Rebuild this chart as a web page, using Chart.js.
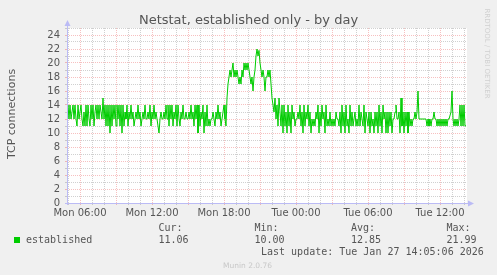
<!DOCTYPE html>
<html><head><meta charset="utf-8">
<script src="https://cdn.jsdelivr.net/npm/chart.js@4"></script>
<style>html,body{margin:0;padding:0;background:#F0F0F0;}canvas{display:block;}</style>
</head><body>
<canvas id="c" width="497" height="275" style="width:497px;height:275px"></canvas>
<script>
const chartTitle = 'Netstat, established only - by day';
const yAxisTitle = 'TCP connections';
const seriesName = 'established';
const startHour = 6 - 13/12;      // Mon 04:55, first sample
const stepHours = 5/60;           // 5 minute samples
const values = [
13,14,12,14,12,13,14,12,14,12,11,14,12,13,14,12,11,13,11,14,
11,14,12,11,14,12,14,11,13,14,12,14,12,14,13,12,15,12,14,11,
14,11,14,10,14,11,14,12,14,11,14,12,14,11,14,10,14,11,13,12,
14,11,13,12,14,12,13,11,12,13,12,14,12,13,11,12,13,12,14,12,
12,13,12,14,11,13,12,14,12,13,12,11,10,12,13,12,12,13,12,14,
12,14,11,14,12,14,11,13,12,14,11,14,12,11,13,12,14,12,12,13,
12,12,13,12,14,12,13,11,14,12,14,10,14,11,13,12,14,10,13,11,
14,11,12,11,12,12,13,12,11,13,12,14,12,13,11,12,13,14,12,11,
15,17,18,19,18,19,20,18,19,18,19,18,17,18,17,19,18,20,19,20,
19,20,19,18,17,18,16,18,19,21,21.99,21,21.8,20,19,18,19,18,16,18,
18,19,18,19,17,15,14,13,15,12,14,11,15,13,11,14,10,14,11,13,
10,14,11,13,10,14,12,13,11,12,12,13,12,14,11,13,10,14,11,13,
12,14,11,13,10,12,11,12,11,13,12,14,10,13,11,14,12,13,10,14,
11,12,11,13,11,12,11,12,11,13,12,12,11,13,10,14,11,13,10,14,
11,12,10,14,11,13,11,12,13,11,12,11,14,11,13,12,11,14,10,13,
12,11,13,10,13,11,12,10,13,11,13,10,14,11,13,10,14,12,13,10,
13,10,13,11,13,10,12,12,13,14,12,12,13,10,15,11,13,10,13,11,
13,10,13,11,12,11,12,12,13,12,13,16,12,12,12,12,12,12,12,12,
11,12,11,12,11,12,12,13,12,12,11,12,11,12,11,12,11,12,11,12,
11,12,12,12,13,16,12,11,12,11,12,11,12,14,11,14,11,14,11,11.06
];
const xTickHours = [6,12,18,24,30,36];
const xTickLabels = ['Mon 06:00','Mon 12:00','Mon 18:00','Tue 00:00','Tue 06:00','Tue 12:00'];
const yMax = 25;
const statLabels = ['Cur:','Min:','Avg:','Max:'];
const statValues = ['11.06','10.00','12.85','21.99'];
const lastUpdate = 'Last update: Tue Jan 27 14:05:06 2026';
const footer = 'Munin 2.0.76';
const sideText = 'RRDTOOL / TOBI OETIKER';

const RED = 'rgba(230,60,60,0.32)';
const GREY = 'rgba(150,150,150,0.45)';
const AXIS = '#BBBBF5';
const LINE = '#00CC00';
const TXT = '#555555';

const bgPlugin = {
  id:'bg',
  beforeDraw(chart){
    const c = chart.ctx, a = chart.chartArea;
    c.save();
    c.fillStyle = '#F0F0F0'; c.fillRect(0,0,chart.width,chart.height);
    c.fillStyle = '#FFFFFF'; c.fillRect(a.left, a.top, a.right-a.left, a.bottom-a.top);
    c.restore();
  }
};
const decoPlugin = {
  id:'deco',
  afterDraw(chart){
    const c = chart.ctx, a = chart.chartArea;
    c.save();
    c.strokeStyle = AXIS; c.lineWidth = 1; c.setLineDash([]);
    c.beginPath();
    c.moveTo(a.left+0.5, a.bottom+2); c.lineTo(a.left+0.5, a.top-4);
    c.moveTo(a.left-2, a.bottom+0.5); c.lineTo(a.right+3, a.bottom+0.5);
    c.stroke();
    c.fillStyle = AXIS;
    c.beginPath();
    c.moveTo(a.left-2.5, a.top-2); c.lineTo(a.left+3.5, a.top-2); c.lineTo(a.left+0.5, a.top-8); c.closePath(); c.fill();
    c.beginPath();
    c.moveTo(a.right+1, a.bottom-2.5); c.lineTo(a.right+1, a.bottom+3.5); c.lineTo(a.right+7, a.bottom+0.5); c.closePath(); c.fill();
    c.fillStyle = TXT; c.textBaseline = 'alphabetic';
    c.font = '13px "DejaVu Sans"'; c.textAlign = 'center';
    c.fillText(chartTitle, 248.5, 24);
    c.save();
    c.translate(14.5, 114); c.rotate(-Math.PI/2);
    c.font = '11px "DejaVu Sans"'; c.textAlign='center';
    c.fillText(yAxisTitle, 0, 0);
    c.restore();
    c.fillStyle = LINE; c.fillRect(14, 237, 6, 6);
    c.fillStyle = TXT; c.textAlign = 'left';
    c.font = '10px "DejaVu Sans Mono"';
    c.fillText(seriesName, 26, 243);
    const xs = [158.5, 254.5, 351, 446.5];
    for (let k=0;k<4;k++){
      c.fillText(statLabels[k], xs[k], 230.5);
      c.fillText(statValues[k], xs[k], 243);
    }
    c.fillText(lastUpdate, 261, 255);
    c.fillStyle = '#C8C8C8'; c.font = '7.5px "DejaVu Sans"'; c.textAlign='center';
    c.fillText(footer, 247.5, 267.5);
    c.save();
    c.translate(485, 53.5); c.rotate(Math.PI/2);
    c.font = '7px "DejaVu Sans"'; c.fillStyle = '#D0D0D0';
    c.fillText(sideText, 0, 0);
    c.restore();
    c.restore();
  }
};

new Chart(document.getElementById('c'), {
  type:'line',
  data:{datasets:[{
    label: seriesName,
    data: values.map((v,i)=>({x:startHour+i*stepHours, y:v})),
    borderColor: LINE, borderWidth:1, pointRadius:0, tension:0, fill:false
  }]},
  options:{
    responsive:false, animation:false, devicePixelRatio:1,
    layout:{padding:{left:0, top:28, right:30, bottom:0}},
    plugins:{legend:{display:false}, title:{display:false}, tooltip:{enabled:false}},
    scales:{
      x:{
        type:'linear', min:startHour, max:startHour+400*stepHours,
        afterBuildTicks(s){ const t=[]; for(let h=5;h<=38;h++) t.push({value:h}); s.ticks=t; },
        afterFit(s){ s.height = 72; },
        ticks:{autoSkip:false, maxRotation:0, minRotation:0, padding:2, color:TXT,
          font:{family:'DejaVu Sans', size:10},
          callback(v){ const k = xTickHours.indexOf(v); return k>=0 ? xTickLabels[k] : ''; }},
        grid:{color:(ctx)=> (ctx.tick && ctx.tick.value%3===0) ? RED : GREY, lineWidth:1,
          drawTicks:true, tickLength:2},
        border:{display:false, dash:[1,1]}
      },
      y:{
        min:0, max:yMax,
        afterBuildTicks(s){ const t=[]; for(let v=0;v<=yMax;v++) t.push({value:v}); s.ticks=t; },
        afterFit(s){ s.width = 67; },
        ticks:{autoSkip:false, padding:5, color:TXT, font:{family:'DejaVu Sans', size:10},
          callback(v){ return v%2===0 ? String(v) : ''; }},
        grid:{color:(ctx)=> (ctx.tick && ctx.tick.value%2===0) ? RED : GREY, lineWidth:1,
          drawTicks:true, tickLength:2},
        border:{display:false, dash:[1,1]}
      }
    }
  },
  plugins:[bgPlugin, decoPlugin]
});
</script>
</body></html>
